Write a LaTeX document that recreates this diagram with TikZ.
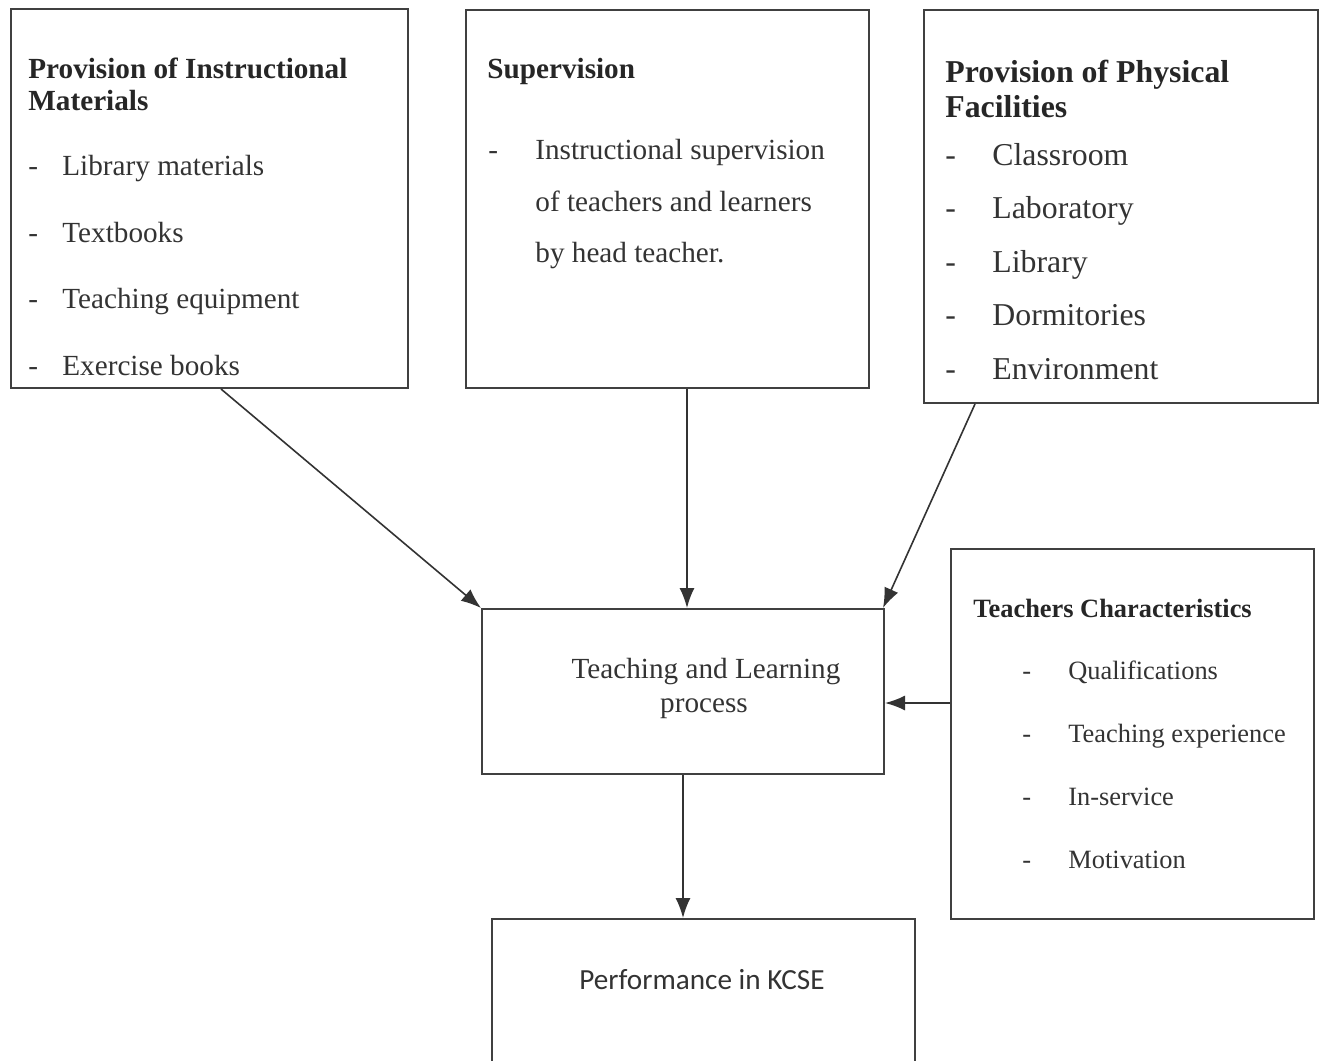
\documentclass[tikz,border=0pt]{standalone}
\usepackage{fontspec}
\setmainfont{Liberation Serif}
\newfontfamily\kcsefont{Carlito}
\usetikzlibrary{arrows.meta,positioning}
\newcommand{\fsmain}{\fontsize{14.6pt}{16pt}\selectfont}
\newcommand{\fsfac}{\fontsize{15.9pt}{17pt}\selectfont}
\newcommand{\fstch}{\fontsize{13.2pt}{15pt}\selectfont}

\begin{document}
\begin{tikzpicture}[
  x=0.5pt, y=-0.5pt,
  >={Latex[length=10pt,width=7.5pt]},
  framebox/.style={rectangle, draw=black!75, line width=1pt, inner sep=0pt, anchor=north west},
  headtxt/.style={anchor=base west, inner sep=0pt, font=\bfseries, text=black!85},
  itemtxt/.style={anchor=base west, inner sep=0pt, text=black!80},
  link/.style={->, line width=0.8pt, draw=black!80}
]
\useasboundingbox (0,0) rectangle (1319,1061);
\clip (0,0) rectangle (1319,1061);

% frames
\node[framebox, minimum width=198.5pt, minimum height=189.5pt] (mat) at (10,8) {};
\node[framebox, minimum width=201.5pt, minimum height=189pt] (sup) at (465,9) {};
\node[framebox, minimum width=197pt, minimum height=196.5pt] (fac) at (923,9) {};
\node[framebox, minimum width=201pt, minimum height=82.5pt] (tlp) at (481,608) {};
\node[framebox, minimum width=181.5pt, minimum height=185pt] (tch) at (950,548) {};
\node[framebox, minimum width=211.5pt, minimum height=85pt] (kcse) at (491,918) {};

% instructional materials
\begin{scope}[every node/.append style={font=\fsmain}]
\node[headtxt, font=\fsmain\bfseries] (mat-h1) at (28,78) {Provision of Instructional};
\node[headtxt, font=\fsmain\bfseries] (mat-h2) at (28,110) {Materials};
\node[itemtxt] (mat-d1) at (28,175) {-};
\node[itemtxt] (mat-i1) at (62,175) {Library materials};
\node[itemtxt] (mat-d2) at (28,242) {-};
\node[itemtxt] (mat-i2) at (62,242) {Textbooks};
\node[itemtxt] (mat-d3) at (28,308) {-};
\node[itemtxt] (mat-i3) at (62,308) {Teaching equipment};
\node[itemtxt] (mat-d4) at (28,375) {-};
\node[itemtxt] (mat-i4) at (62,375) {Exercise books};
\end{scope}

% supervision
\begin{scope}[every node/.append style={font=\fsmain}]
\node[headtxt, font=\fsmain\bfseries] (sup-h1) at (487,78) {Supervision};
\node[itemtxt] (sup-d1) at (488,159) {-};
\node[itemtxt] (sup-l1) at (535,159) {Instructional supervision};
\node[itemtxt] (sup-l2) at (535,211) {of teachers and learners};
\node[itemtxt] (sup-l3) at (535,262) {by head teacher.};
\end{scope}

% physical facilities
\begin{scope}[every node/.append style={font=\fsfac}]
\node[headtxt, font=\fsfac\bfseries] (fac-h1) at (945,82) {Provision of Physical};
\node[headtxt, font=\fsfac\bfseries] (fac-h2) at (945,117) {Facilities};
\node[itemtxt] (fac-d1) at (945,165) {-};
\node[itemtxt] (fac-i1) at (992,165) {Classroom};
\node[itemtxt] (fac-d2) at (945,218) {-};
\node[itemtxt] (fac-i2) at (992,218) {Laboratory};
\node[itemtxt] (fac-d3) at (945,272) {-};
\node[itemtxt] (fac-i3) at (992,272) {Library};
\node[itemtxt] (fac-d4) at (945,325) {-};
\node[itemtxt] (fac-i4) at (992,325) {Dormitories};
\node[itemtxt] (fac-d5) at (945,379) {-};
\node[itemtxt] (fac-i5) at (992,379) {Environment};
\end{scope}

% teaching and learning
\node[itemtxt, anchor=base, font=\fsmain] (tlp-l1) at (706,678) {Teaching and Learning};
\node[itemtxt, anchor=base, font=\fsmain] (tlp-l2) at (704,712) {process};

% teachers characteristics
\begin{scope}[every node/.append style={font=\fstch}]
\node[headtxt, font=\fstch\bfseries] (tch-h1) at (973,617) {Teachers Characteristics};
\node[itemtxt] (tch-d1) at (1022,679) {-};
\node[itemtxt] (tch-i1) at (1068,679) {Qualifications};
\node[itemtxt] (tch-d2) at (1022,742) {-};
\node[itemtxt] (tch-i2) at (1068,742) {Teaching experience};
\node[itemtxt] (tch-d3) at (1022,805) {-};
\node[itemtxt] (tch-i3) at (1068,805) {In-service};
\node[itemtxt] (tch-d4) at (1022,868) {-};
\node[itemtxt] (tch-i4) at (1068,868) {Motivation};
\end{scope}

% outcome
\node[itemtxt, anchor=base, font=\kcsefont\fsmain] (kcse-t) at (702,989) {Performance in KCSE};

% arrows
\draw[link] ([xshift=5.75pt]mat.south) -- (tlp.north west);
\draw[link] ([xshift=9.75pt]sup.south) -- ([xshift=9.75pt]sup.south |- tlp.north);
\draw[link] ([xshift=26pt]fac.south west) -- ([xshift=-1pt]tlp.north east);
\draw[link] ([yshift=15.5pt]tch.west) -- ([yshift=15.5pt]tch.west -| tlp.east);
\draw[link] (tlp.south) -- (tlp.south |- kcse.north);
\end{tikzpicture}
\end{document}
